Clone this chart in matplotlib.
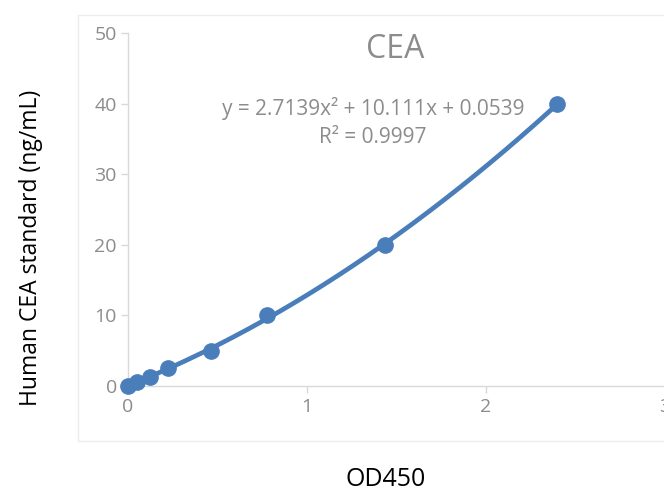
import numpy as np
from matplotlib import pyplot as plt
from matplotlib.patches import Rectangle

# standard curve readings
od450 = [0.0, 0.049, 0.123, 0.225, 0.462, 0.775, 1.436, 2.398]
cea = [0, 0.625, 1.25, 2.5, 5, 10, 20, 40]

# trendline coefficients shown on the chart
fit_coef = [2.7139, 10.111, 0.0539]
r_squared = 0.9997

x_ticks = [0, 1, 2, 3]
y_ticks = [0, 10, 20, 30, 40, 50]

BLUE = '#4a7ebb'
GREY = '#8c8c8c'
AXIS = '#d9d9d9'

plt.rcParams['font.family'] = ['Open Sans', 'DejaVu Sans']

fig = plt.figure(figsize=(6.64, 4.91), dpi=100)
W, H = 664, 491

# faint chart-area border
fig.patches.append(Rectangle((78 / W, 1 - 441 / H), 700 / W, 426 / H,
                             transform=fig.transFigure, fill=False,
                             edgecolor='#ececec', linewidth=1))

ax = fig.add_axes([128 / W, 1 - 386 / H, 537 / W, 353 / H])
ax.set_facecolor('none')

xs = np.linspace(0, max(od450), 200)
ax.plot(od450, cea, 'o', color=BLUE, markersize=11, zorder=3, clip_on=False)
ax.plot(xs, np.polyval(fit_coef, xs), color=BLUE, linewidth=3.4, zorder=4,
        clip_on=False)

ax.set_xlim(0, 3)
ax.set_ylim(0, 50)
ax.set_xticks(x_ticks)
ax.set_yticks(y_ticks)

for s in ['top', 'right']:
    ax.spines[s].set_visible(False)
for s in ['left', 'bottom']:
    ax.spines[s].set_color(AXIS)
    ax.spines[s].set_linewidth(1)
ax.tick_params(colors=AXIS, labelcolor=GREY, labelsize=14, length=5,
               width=1, direction='out')
ax.tick_params(axis='x', pad=4)
ax.tick_params(axis='y', pad=3)

ax.text(1.49, 47.6, 'CEA', color=GREY, fontsize=23, ha='center', va='center')

eq = (f'y = {fit_coef[0]}x² + {fit_coef[1]}x + {fit_coef[2]}\n'
      f'R² = {r_squared}')
ax.text(1.37, 37.3, eq, color=GREY, fontsize=15, ha='center', va='center',
        linespacing=1.4)

fig.text(31 / W, 1 - 248 / H, 'Human CEA standard (ng/mL)', rotation=90,
         ha='center', va='center', fontsize=16.5, color='black')
fig.text(386 / W, 1 - 480 / H, 'OD450', ha='center', va='center',
         fontsize=18, color='black')

fig.savefig('out.png', dpi=100)
